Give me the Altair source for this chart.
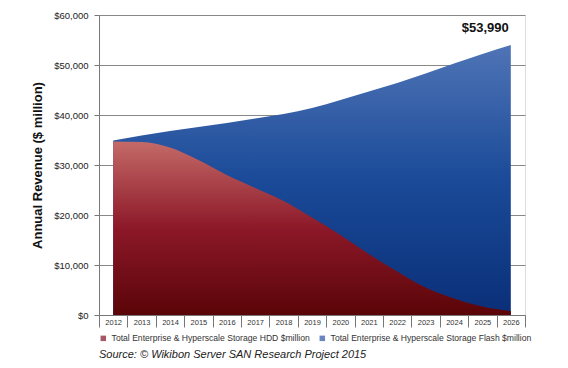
import altair as alt
import pandas as pd

years = [str(y) for y in range(2012, 2027)]
hdd = [34700, 34600, 33500, 31000, 28000, 25400, 22800, 19500, 16000, 12200, 8700, 5500, 3300, 1700, 800]
total = [34900, 35900, 36800, 37600, 38400, 39300, 40200, 41400, 43000, 44700, 46400, 48300, 50300, 52200, 53990]
series_names = ["Total Enterprise & Hyperscale Storage HDD $million",
                "Total Enterprise & Hyperscale Storage Flash $million"]
series_colors = ["#7d1222", "#2c52a0"]
final_label = "$53,990"

df = pd.DataFrame({"year": years, "hdd": hdd, "total": total, "zero": [0] * len(years)})

xenc = alt.X("year:O", bandPosition=0.5,
             scale=alt.Scale(type="band", paddingInner=0, paddingOuter=0),
             axis=alt.Axis(title=None, labelAngle=0, labelFontSize=7.5, labelColor="#333",
                           tickBand="extent", tickSize=12, labelPadding=-9,
                           tickColor="#777", domainColor="#777", labelFont="Liberation Sans"))
yscale = alt.Scale(domain=[0, 60000])
yaxis = alt.Axis(title="Annual Revenue ($ million)", format="$,.0f", values=[0, 10000, 20000, 30000, 40000, 50000, 60000],
                 titleFontSize=13, titleFontWeight="bold", titleColor="#111", titleFont="Liberation Sans",
                 labelFontSize=9.5, labelColor="#222", labelPadding=6, tickSize=5, titlePadding=9,
                 gridColor="#888", tickColor="#777", domainColor="#777", labelFont="Liberation Sans")

blue_grad = alt.Gradient(gradient="linear", x1=0, x2=0, y1=0, y2=1,
                         stops=[alt.GradientStop(color="#4f74b6", offset=0),
                                alt.GradientStop(color="#1a4a98", offset=0.5),
                                alt.GradientStop(color="#0a2f78", offset=1)])
red_grad = alt.Gradient(gradient="linear", x1=0, x2=0, y1=0, y2=1,
                        stops=[alt.GradientStop(color="#c46a68", offset=0),
                               alt.GradientStop(color="#8c1828", offset=0.5),
                               alt.GradientStop(color="#5a0508", offset=1)])

base = alt.Chart(df)
blue = base.mark_area(interpolate="monotone", fill=blue_grad).encode(
    x=xenc, y=alt.Y("total:Q", scale=yscale, axis=yaxis), y2="zero:Q")
red = base.mark_area(interpolate="monotone", fill=red_grad).encode(
    x=xenc, y=alt.Y("hdd:Q"), y2="zero:Q")
label = base.transform_filter(alt.datum.year == "2026").mark_text(
    align="right", baseline="bottom", dx=-2, dy=-10, fontSize=13, fontWeight="bold",
    font="Liberation Sans", color="#111").encode(
    x=xenc, y=alt.Y("total:Q"), text=alt.value(final_label))

legend_df = pd.DataFrame({"series": series_names})
legend_layer = alt.Chart(legend_df).transform_filter("false").mark_square().encode(
    color=alt.Color("series:N", scale=alt.Scale(domain=series_names, range=series_colors),
                    legend=alt.Legend(title=None, orient="bottom", direction="horizontal",
                                      symbolType="square", symbolSize=30, labelFontSize=8.6,
                                      labelColor="#333", labelFont="Liberation Sans",
                                      labelLimit=400, columnPadding=8, offset=6)))

chart = alt.layer(blue, red, label, legend_layer).properties(
    width=426, height=300,
    padding={"left": 23, "top": 2, "right": 5, "bottom": 2},
    title=alt.TitleParams("Source: © Wikibon Server SAN Research Project 2015", orient="bottom",
                          anchor="start", frame="group", fontSize=11, fontStyle="italic", fontWeight="normal",
                          font="Liberation Sans", color="#222", offset=6)
).configure_view(stroke="#888").configure(background="white")

chart.save("out.html", embed_options={"renderer": "svg", "actions": False})
